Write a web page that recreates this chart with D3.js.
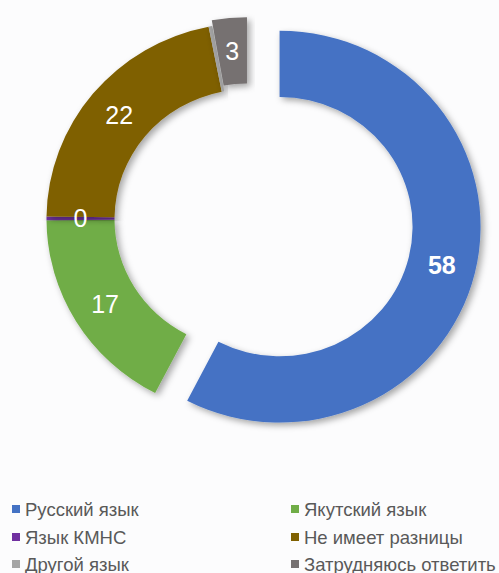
<!DOCTYPE html>
<html>
<head>
<meta charset="utf-8">
<script src="https://cdn.jsdelivr.net/npm/d3@7"></script>
<style>
  html, body { margin: 0; padding: 0; background: #fcfcfd; }
  svg { display: block; font-family: "Liberation Sans", Arial, sans-serif; }
</style>
</head>
<body>
<svg id="chart" width="499" height="573"></svg>
<script>
const categories = ["Русский язык", "Якутский язык", "Язык КМНС", "Не имеет разницы", "Другой язык", "Затрудняюсь ответить"];
const values = [57.6, 17.3, 0.3, 21.7, 0.3, 2.8];
const colors = ["#4472C4", "#70AD47", "#7030A0", "#7F6000", "#A5A5A5", "#767171"];
const showLabel = [true, true, true, true, false, true];
const explode = [33, 0, 0, 0, 0, 6];

const svg = d3.select("#chart");
const cx = 247.5, cy = 219, yScale = 0.975;
const R = 201, r = 133;

const defs = svg.append("defs");
const f = defs.append("filter").attr("id", "shadow")
  .attr("x", "-20%").attr("y", "-20%").attr("width", "140%").attr("height", "140%");
f.append("feDropShadow").attr("dx", 3).attr("dy", 3).attr("stdDeviation", 3.5)
  .attr("flood-color", "#000").attr("flood-opacity", 0.35);

const data = categories.map((c, i) => ({ name: c, value: values[i], color: colors[i], i }));
const pie = d3.pie().sort(null).value(d => d.value).startAngle(0).endAngle(2 * Math.PI);
const arcs = pie(data);
const arc = d3.arc().innerRadius(r).outerRadius(R);

const g = svg.append("g").attr("transform", `translate(${cx},${cy}) scale(1,${yScale})`);

function offset(a, d) {
  const m = (a.startAngle + a.endAngle) / 2;
  return [Math.sin(m) * d, -Math.cos(m) * d];
}

g.selectAll("path.slice").data(arcs).enter().append("path")
  .attr("class", "slice")
  .attr("d", arc)
  .attr("fill", d => d.data.color)
  .attr("filter", "url(#shadow)")
  .attr("transform", d => {
    const [ox, oy] = offset(d, explode[d.data.i]);
    return `translate(${ox},${oy})`;
  });

// labels
const mid = (R + r) / 2;
const labelArc = d3.arc().innerRadius(mid).outerRadius(mid);
svg.append("g").selectAll("text").data(arcs.filter(d => showLabel[d.data.i])).enter().append("text")
  .attr("x", d => {
    const [ox] = offset(d, explode[d.data.i]);
    return cx + labelArc.centroid(d)[0] + ox;
  })
  .attr("y", d => {
    const [, oy] = offset(d, explode[d.data.i]);
    return cy + (labelArc.centroid(d)[1] + oy) * yScale;
  })
  .attr("text-anchor", "middle")
  .attr("dominant-baseline", "central")
  .attr("fill", "#ffffff")
  .attr("font-size", 25)
  .attr("font-weight", d => d.data.i === 0 ? "bold" : "normal")
  .text(d => Math.round(d.data.value));

// legend
const legend = svg.append("g");
const colX = [12, 291];
const rowY = [509, 537, 564];
data.forEach((d, i) => {
  const col = i % 2, row = Math.floor(i / 2);
  const lg = legend.append("g").attr("transform", `translate(${colX[col]},${rowY[row]})`);
  lg.append("rect").attr("x", 0).attr("y", -4).attr("width", 8).attr("height", 8).attr("fill", d.color);
  lg.append("text").attr("x", 13).attr("y", 0).attr("dominant-baseline", "central")
    .attr("font-size", 18.5).attr("fill", "#595959").text(d.name);
});
</script>
</body>
</html>
